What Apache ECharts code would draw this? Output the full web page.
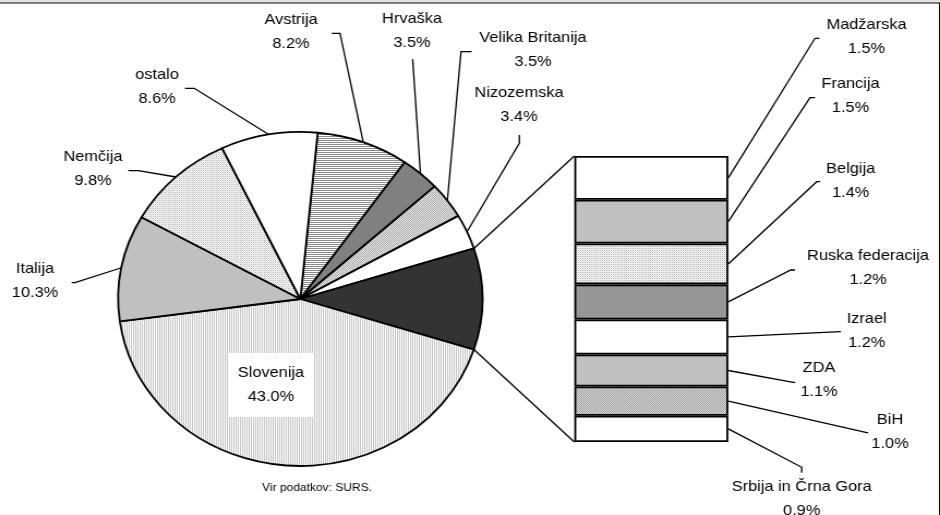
<!DOCTYPE html>
<html><head><meta charset="utf-8">
<script src="https://cdn.jsdelivr.net/npm/echarts@6/dist/echarts.min.js"></script>
<style>
html,body{margin:0;padding:0;background:#fff;overflow:hidden;}
#wrap{width:940px;height:515px;overflow:hidden;position:relative;}
#chart{width:862px;height:515px;transform:scaleX(1.0905);transform-origin:0 0;}
</style></head>
<body><div id="wrap"><div id="chart"></div></div>
<script>
// ---- data ----
const pieCategories = ['Avstrija', 'Hrvaška', 'Velika Britanija', 'Nizozemska', 'Slovenija', 'Italija', 'Nemčija', 'ostalo'];
const pieValues = [8.2, 3.5, 3.5, 3.4, 43.0, 10.3, 9.8, 8.6];
const barCategories = ['Madžarska', 'Francija', 'Belgija', 'Ruska federacija', 'Izrael', 'ZDA', 'BiH', 'Srbija in Črna Gora'];
const barValues = [1.5, 1.5, 1.4, 1.2, 1.2, 1.1, 1.0, 0.9];
const aggregateAfter = 'Nizozemska';
const sourceText = 'Vir podatkov: SURS.';

// ---- layout ----
const S = 940 / 862;
const W = 862, H = 515;
const FONT = "'Liberation Sans', Arial, sans-serif";
const pieCenter = [300.3 / S, 299];
const pieRadius = 167;
const gridLeft = 574.3 / S, gridTop = 156, gridWidth = 154 / S, gridHeight = 286;
const LEADER_W = 1.3;

function pattern(w, h, bg, dots) {
  const c = document.createElement('canvas');
  c.width = w; c.height = h;
  const g = c.getContext('2d');
  g.fillStyle = bg; g.fillRect(0, 0, w, h);
  dots.forEach(d => { g.fillStyle = d[2]; g.fillRect(d[0], d[1], 1, 1); });
  return { image: c, repeat: 'repeat' };
}
const hStripes = pattern(1, 2, '#ffffff', [[0, 0, '#8a8a8a']]);
const vStripes = pattern(2, 1, '#ffffff', [[0, 0, '#c4c4c4']]);
const dotsLight = pattern(2, 2, '#ffffff', [[0, 0, '#b0b0b0'], [1, 1, '#dcdcdc']]);
const hatchLight = pattern(2, 2, '#eeeeee', [[0, 0, '#a0a0a0'], [1, 1, '#a8a8a8']]);
const hatchMid = pattern(2, 2, '#d8d8d8', [[0, 0, '#a0a0a0'], [1, 1, '#a0a0a0']]);
const dotsBar = pattern(2, 2, '#ffffff', [[0, 0, '#a8a8a8'], [1, 1, '#e0e0e0']]);

const pieFill = {
  'Avstrija': hStripes, 'Hrvaška': '#808080', 'Velika Britanija': hatchLight,
  'Nizozemska': '#ffffff', '__agg': '#333333', 'Slovenija': vStripes,
  'Italija': '#c0c0c0', 'Nemčija': dotsLight, 'ostalo': '#ffffff'
};
const barFill = {
  'Madžarska': '#ffffff', 'Francija': '#c0c0c0', 'Belgija': dotsBar, 'Ruska federacija': '#969696',
  'Izrael': '#ffffff', 'ZDA': '#c0c0c0', 'BiH': hatchMid, 'Srbija in Črna Gora': '#ffffff'
};
// label centre + leader elbow/end, in screen px
const pieLabelPos = {
  'Avstrija': { c: [291, 31.5], line: [[340, 33.3], [331.7, 33.3]] },
  'Hrvaška': { c: [412, 30.5], line: [[412.7, 60], [412.7, 59.3]] },
  'Velika Britanija': { c: [533, 50.3], line: [[461, 51.7], [471.7, 51.7]] },
  'Nizozemska': { c: [519, 104.5], line: [[519.3, 143.3], [519.3, 135]] },
  'Slovenija': { c: [271, 385], line: null },
  'Italija': { c: [35, 281], line: [[75, 282.7], [71.7, 282.7]] },
  'Nemčija': { c: [93, 168.7], line: [[138.3, 170.7], [128.3, 170.7]] },
  'ostalo': { c: [157, 87], line: [[194.3, 88.3], [185, 88.3]] }
};
const barLabelPos = {
  'Madžarska': { c: [866.5, 37], line: [[815, 38.3], [819.3, 38.3]] },
  'Francija': { c: [850.5, 96], line: [[810, 97.7], [815, 97.7]] },
  'Belgija': { c: [850.7, 180.5], line: [[816.7, 181.7], [820, 181.7]] },
  'Ruska federacija': { c: [868, 268], line: [[790.7, 270], [795, 270]] },
  'Izrael': { c: [866.7, 330.5], line: [[840.7, 331.7], [840.7, 331.7]] },
  'ZDA': { c: [819, 379.7], line: [[793.3, 382.3], [795, 382.3]] },
  'BiH': { c: [890, 431.5], line: [[866.7, 432.7], [868, 432.7]] },
  'Srbija in Črna Gora': { c: [801.7, 498.5], line: [[801.7, 467.3], [801.7, 472.7]] }
};

// ---- build ----
const barTotal = barValues.reduce((a, b) => a + b, 0);
const pieData = [];
let before = 0, seen = false;
pieCategories.forEach((n, i) => {
  const item = { name: n, value: pieValues[i], itemStyle: { color: pieFill[n] } };
  if (n === 'Slovenija') {
    item.label = { backgroundColor: '#ffffff', padding: [8, 9] };
    item.labelLine = { show: false };
  }
  pieData.push(item);
  if (!seen) before += pieValues[i];
  if (n === aggregateAfter) {
    seen = true;
    pieData.push({ name: '__agg', value: barTotal, itemStyle: { color: pieFill['__agg'] },
      label: { show: false }, labelLine: { show: false } });
  }
});
const total = pieData.reduce((a, d) => a + d.value, 0);
const startAngle = 360 * (before + barTotal / 2) / total;

const textStyle = { fontFamily: FONT, fontSize: 15, lineHeight: 24, color: '#000' };

const chart = echarts.init(document.getElementById('chart'), null, { renderer: 'canvas' });

const series = [{
  type: 'pie',
  center: pieCenter,
  radius: pieRadius,
  startAngle: startAngle,
  clockwise: true,
  avoidLabelOverlap: false,
  silent: true,
  data: pieData,
  itemStyle: { borderColor: '#000', borderWidth: 1.8 },
  label: Object.assign({ show: true, position: 'outside',
    formatter: p => p.name + '\n' + p.value.toFixed(1) + '%' }, textStyle),
  labelLine: { show: true, length: 10, length2: 10, lineStyle: { color: '#000', width: LEADER_W } },
  labelLayout: function (p) {
    const d = pieData[p.dataIndex];
    const L = pieLabelPos[d.name];
    if (!L) return {};
    const out = { x: L.c[0] / S, y: L.c[1], align: 'center', verticalAlign: 'middle' };
    if (L.line && p.labelLinePoints) {
      out.labelLinePoints = [p.labelLinePoints[0]].concat(L.line.map(q => [q[0] / S, q[1]]));
    }
    return out;
  }
}];

barCategories.forEach((n, i) => {
  series.push({
    type: 'bar', name: n, stack: 'agg', data: [barValues[i]],
    barWidth: '100%', silent: true,
    xAxisIndex: 0, yAxisIndex: 0,
    itemStyle: { color: barFill[n], borderColor: '#000', borderWidth: 1.8 },
    label: Object.assign({ show: true, position: 'right',
      formatter: p => p.seriesName + '\n' + p.value.toFixed(1) + '%' }, textStyle),
    labelLayout: function () {
      const L = barLabelPos[n];
      return { x: L.c[0] / S, y: L.c[1], align: 'center', verticalAlign: 'middle' };
    }
  });
});

chart.setOption({
  animation: false,
  backgroundColor: '#ffffff',
  grid: { left: gridLeft, top: gridTop, width: gridWidth, height: gridHeight },
  xAxis: { type: 'category', data: [''], show: false },
  yAxis: { type: 'value', min: 0, max: barTotal, inverse: true, show: false },
  series: series
});

// connectors between the aggregated slice and the bar, bar leader lines, frame and source
const a1 = (startAngle - 360 * before / total) * Math.PI / 180;
const a2 = (startAngle - 360 * (before + barTotal) / total) * Math.PI / 180;
const p1 = [pieCenter[0] + pieRadius * Math.cos(a1), pieCenter[1] - pieRadius * Math.sin(a1)];
const p2 = [pieCenter[0] + pieRadius * Math.cos(a2), pieCenter[1] - pieRadius * Math.sin(a2)];
const yTop = chart.convertToPixel({ yAxisIndex: 0 }, 0);
const yBot = chart.convertToPixel({ yAxisIndex: 0 }, barTotal);
const barRight = gridLeft + gridWidth;
const graphics = [
  { type: 'line', shape: { x1: p1[0], y1: p1[1], x2: gridLeft, y2: yTop }, style: { stroke: '#000', lineWidth: LEADER_W }, silent: true },
  { type: 'line', shape: { x1: p2[0], y1: p2[1], x2: gridLeft, y2: yBot }, style: { stroke: '#000', lineWidth: LEADER_W }, silent: true },
  { type: 'rect', shape: { x: 0, y: 0, width: W, height: 2.5 }, style: { fill: '#e4e4e4' }, silent: true },
  { type: 'line', shape: { x1: 0, y1: 3, x2: W, y2: 3 }, style: { stroke: '#000', lineWidth: 1 }, silent: true },
  { type: 'line', shape: { x1: W - 0.5, y1: 3, x2: W - 0.5, y2: H }, style: { stroke: '#000', lineWidth: 1 }, silent: true },
  { type: 'text', x: 317 / S, y: 488, silent: true,
    style: { text: sourceText, fontFamily: FONT, fontSize: 11, fill: '#000', align: 'center', verticalAlign: 'middle' } }
];
let cum = 0;
barCategories.forEach((n, i) => {
  const yMid = chart.convertToPixel({ yAxisIndex: 0 }, cum + barValues[i] / 2);
  cum += barValues[i];
  const L = barLabelPos[n];
  const pts = [[barRight, yMid]].concat(L.line.map(q => [q[0] / S, q[1]]));
  graphics.push({ type: 'polyline', shape: { points: pts }, style: { stroke: '#000', lineWidth: LEADER_W, fill: null }, silent: true, z: 10 });
});
chart.setOption({ graphic: graphics });
</script>
</body></html>
